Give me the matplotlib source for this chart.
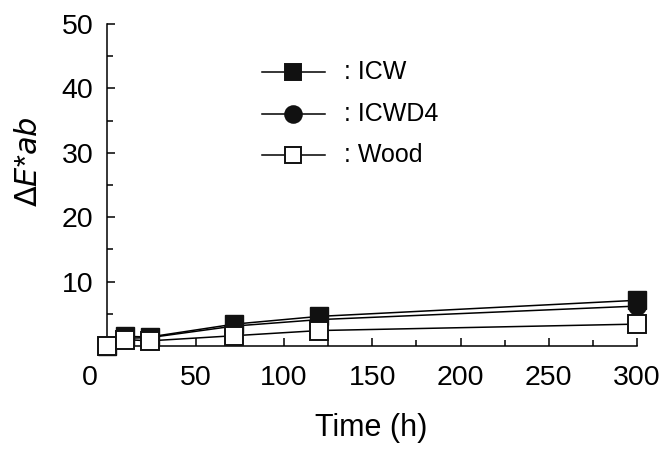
import matplotlib.pyplot as plt
import matplotlib.transforms as mtransforms
from matplotlib.lines import Line2D

plt.rcParams['font.family'] = ['Liberation Sans', 'DejaVu Sans']

# exposure time (h) and colour difference for each sample
time_h = [0, 10, 24, 72, 120, 300]
icw = [0.0, 1.5, 1.4, 3.4, 4.6, 7.1]
icwd4 = [0.0, 1.2, 1.3, 3.1, 4.1, 6.2]
wood = [0.0, 1.0, 0.8, 1.6, 2.4, 3.4]

xticks = [0, 50, 100, 150, 200, 250, 300]
yticks = [10, 20, 30, 40, 50]

fig = plt.figure(figsize=(6.7, 4.49), dpi=100)
ax = fig.add_axes([0.160, 0.2294, 0.791, 0.7171])

ms = 12.5
ax.plot(time_h, icwd4, '-o', color='black', lw=1.1, ms=ms,
        mfc='#111111', mec='#111111', clip_on=False, zorder=3)
ax.plot(time_h, icw, '-s', color='black', lw=1.1, ms=ms,
        mfc='#111111', mec='#111111', clip_on=False, zorder=4)
ax.plot(time_h, wood, '-s', color='black', lw=1.1, ms=ms,
        mfc='white', mec='#111111', mew=1.4, clip_on=False, zorder=5)

ax.set_xlim(0, 300)
ax.set_ylim(0, 50)
ax.set_xticks(xticks)
ax.set_xticks([25, 75, 125, 175, 225, 275], minor=True)
ax.set_yticks(yticks)
ax.set_yticks([5, 15, 25, 35, 45], minor=True)
ax.tick_params(which='both', direction='in', width=1.1, labelsize=20.5)
ax.tick_params(which='major', length=6)
ax.tick_params(which='minor', length=4)
ax.tick_params(axis='x', pad=14)
ax.tick_params(axis='y', pad=10)
for s in ['top', 'right']:
    ax.spines[s].set_visible(False)
for s in ['left', 'bottom']:
    ax.spines[s].set_linewidth(1.1)

# nudge the origin label left, away from the corner markers
lab0 = ax.get_xticklabels()[0]
lab0.set_transform(lab0.get_transform() +
                   mtransforms.ScaledTranslation(-0.17, 0, fig.dpi_scale_trans))

fig.text(0.554, 0.047, 'Time (h)', fontsize=22, ha='center', va='center')
fig.text(0.044, 0.64, r'$\Delta$$\mathit{E}$*$\mathit{ab}$', fontsize=22,
         rotation=90, ha='center', va='center')

# hand-built key: line segment, marker, then ": name"
key = [('s', '#111111', ': ICW', 72),
       ('o', '#111111', ': ICWD4', 114),
       ('s', 'white', ': Wood', 155)]
for mk, fc, name, ypx in key:
    yf = 1 - ypx / 449
    fig.add_artist(Line2D([262 / 670, 325 / 670], [yf, yf], color='black',
                          lw=1.1, transform=fig.transFigure))
    fig.add_artist(Line2D([293 / 670], [yf], marker=mk, ms=12, mfc=fc,
                          mec='#111111', mew=1.4, transform=fig.transFigure))
    fig.text(344 / 670, yf, name, fontsize=18, ha='left', va='center')

fig.savefig('out.png', dpi=100)
